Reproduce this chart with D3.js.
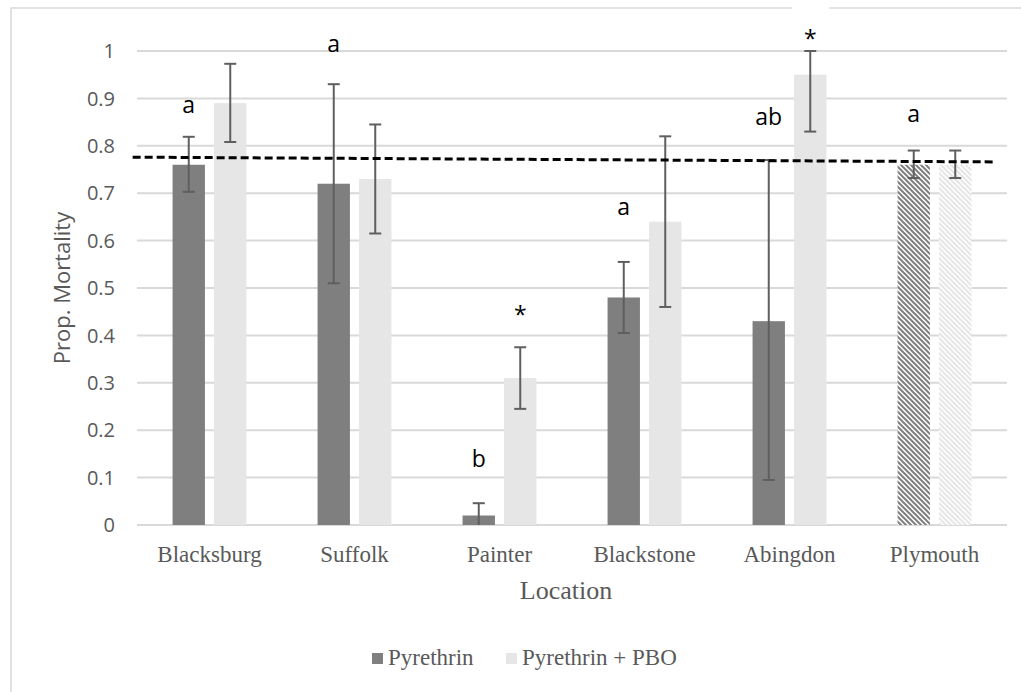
<!DOCTYPE html>
<html>
<head>
<meta charset="utf-8">
<script src="https://cdn.jsdelivr.net/npm/d3@7"></script>
<style>
  body { margin: 0; background: #fff; }
  svg { display: block; }
</style>
</head>
<body>
<svg id="chart" width="1021" height="692"></svg>
<script>
// locations on the x axis
const locations = ['Blacksburg', 'Suffolk', 'Painter', 'Blackstone', 'Abingdon', 'Plymouth'];
const seriesNames = ['Pyrethrin', 'Pyrethrin + PBO'];

// proportion mortality and error bar bounds
const pyrethrin = [0.76, 0.72, 0.02, 0.48, 0.43, 0.76];
const pyrethrinLow = [0.703, 0.51, 0.0, 0.405, 0.095, 0.732];
const pyrethrinHigh = [0.819, 0.93, 0.046, 0.555, 0.77, 0.79];

const pyrethrinPbo = [0.89, 0.73, 0.31, 0.64, 0.95, 0.76];
const pyrethrinPboLow = [0.808, 0.615, 0.245, 0.46, 0.83, 0.732];
const pyrethrinPboHigh = [0.973, 0.845, 0.375, 0.82, 1.0, 0.79];

const yTicks = [0, 0.1, 0.2, 0.3, 0.4, 0.5, 0.6, 0.7, 0.8, 0.9, 1];

// significance letters: location, series index, text, baseline value
const sigLabels = [
    ['Blacksburg', 0, 'a', 0.869],
    ['Suffolk', 0, 'a', 0.998],
    ['Painter', 0, 'b', 0.122],
    ['Painter', 1, '*', 0.426],
    ['Blackstone', 0, 'a', 0.654],
    ['Abingdon', 0, 'ab', 0.844],
    ['Abingdon', 1, '*', 1.008],
    ['Plymouth', 0, 'a', 0.85]
];

// dashed reference line, position in category units
const refLine = [[-0.03, 0.776], [5.92, 0.766]];

const margens = { left: 137, right: 14, top: 51, bottom: 167 };
const svg = d3.select('#chart');
const width = 1021 - margens.left - margens.right;
const height = 692 - margens.top - margens.bottom;

const colors = ['#7f7f7f', '#e7e6e6'];

// hatched fill for Plymouth
const defs = svg.append('defs');
colors.forEach((c, i) => {
    const p = defs.append('pattern')
        .attr('id', 'hatch' + i)
        .attr('patternUnits', 'userSpaceOnUse')
        .attr('width', 5).attr('height', 5);
    p.append('rect').attr('width', 5).attr('height', 5).attr('fill', '#fff');
    p.append('path')
        .attr('d', 'M0,0 L5,5 M-1,4 L1,6 M4,-1 L6,1')
        .attr('stroke', c).attr('stroke-width', 2);
});

// outer border
svg.append('rect')
    .attr('x', 11).attr('y', 8)
    .attr('width', 1040).attr('height', 720)
    .attr('fill', 'none').attr('stroke', '#d9d9d9').attr('stroke-width', 1.5);

const x = d3.scaleBand().domain(locations).range([0, width]).padding(0);
const x1 = d3.scaleBand().domain([0, 1]).range([0, x.bandwidth()])
    .paddingInner(0.22).paddingOuter(0.857);
const xPos = d3.scaleLinear().domain([0, locations.length]).range([0, width]);
const y = d3.scaleLinear().domain([0, 1]).range([height, 0]);

const group = svg.append('g')
    .attr('transform', `translate(${margens.left}, ${margens.top})`);

// gridlines
group.append('g').selectAll('line').data(yTicks).enter()
    .append('line')
    .attr('x1', 0).attr('x2', width)
    .attr('y1', d => y(d)).attr('y2', d => y(d))
    .attr('stroke', '#d9d9d9').attr('stroke-width', 2);

// y tick labels
group.append('g').selectAll('text').data(yTicks).enter()
    .append('text')
    .attr('x', -22).attr('y', d => y(d))
    .attr('dy', '0.36em')
    .attr('text-anchor', 'end')
    .attr('font-family', 'Open Sans, sans-serif')
    .attr('font-size', 20)
    .attr('fill', '#595959')
    .text(d => d);

const data = [];
locations.forEach((loc, i) => {
    data.push({ loc, s: 0, v: pyrethrin[i], lo: pyrethrinLow[i], hi: pyrethrinHigh[i] });
    data.push({ loc, s: 1, v: pyrethrinPbo[i], lo: pyrethrinPboLow[i], hi: pyrethrinPboHigh[i] });
});

const cx = d => x(d.loc) + x1(d.s) + x1.bandwidth() / 2;

// bars
group.append('g').selectAll('rect').data(data).enter()
    .append('rect')
    .attr('x', d => x(d.loc) + x1(d.s))
    .attr('y', d => y(d.v))
    .attr('width', x1.bandwidth())
    .attr('height', d => height - y(d.v))
    .attr('fill', d => d.loc === 'Plymouth' ? `url(#hatch${d.s})` : colors[d.s]);

// error bars
const err = group.append('g')
    .attr('stroke', '#5f5f5f').attr('stroke-width', 2);
err.selectAll('.stem').data(data).enter()
    .append('line')
    .attr('x1', cx).attr('x2', cx)
    .attr('y1', d => y(d.lo)).attr('y2', d => y(d.hi));
err.selectAll('.capHi').data(data).enter()
    .append('line')
    .attr('x1', d => cx(d) - 6).attr('x2', d => cx(d) + 6)
    .attr('y1', d => y(d.hi)).attr('y2', d => y(d.hi));
err.selectAll('.capLo').data(data.filter(d => d.lo > 0)).enter()
    .append('line')
    .attr('x1', d => cx(d) - 6).attr('x2', d => cx(d) + 6)
    .attr('y1', d => y(d.lo)).attr('y2', d => y(d.lo));

// dashed reference line
group.append('path')
    .datum(refLine)
    .attr('d', d3.line().x(d => xPos(d[0])).y(d => y(d[1])))
    .attr('fill', 'none')
    .attr('stroke', '#000')
    .attr('stroke-width', 3)
    .attr('stroke-dasharray', '8,4');

// significance labels
const lab = group.append('g').selectAll('g').data(sigLabels).enter().append('g');
lab.filter(d => d[2] === '*' && d[3] > 1)
    .append('rect')
    .attr('x', d => x(d[0]) + x1(d[1]) + x1.bandwidth() / 2 - 18)
    .attr('y', d => y(d[3]) - 46)
    .attr('width', 37).attr('height', 44)
    .attr('fill', '#fff');
lab.append('text')
    .attr('x', d => x(d[0]) + x1(d[1]) + x1.bandwidth() / 2)
    .attr('y', d => y(d[3]))
    .attr('text-anchor', 'middle')
    .attr('font-family', 'Open Sans, sans-serif')
    .attr('font-size', 23)
    .attr('fill', '#000')
    .text(d => d[2]);

// x category labels
group.append('g').selectAll('text').data(locations).enter()
    .append('text')
    .attr('x', d => x(d) + x.bandwidth() / 2)
    .attr('y', height + 37)
    .attr('text-anchor', 'middle')
    .attr('font-family', 'Liberation Serif, Times New Roman, serif')
    .attr('font-size', 23)
    .attr('fill', '#595959')
    .text(d => d);

// axis titles
group.append('text')
    .attr('x', width / 2 - 6).attr('y', height + 74)
    .attr('text-anchor', 'middle')
    .attr('font-family', 'Liberation Serif, Times New Roman, serif')
    .attr('font-size', 26)
    .attr('fill', '#595959')
    .text('Location');

svg.append('text')
    .attr('transform', `translate(70, ${margens.top + height / 2}) rotate(-90)`)
    .attr('text-anchor', 'middle')
    .attr('font-family', 'Open Sans, sans-serif')
    .attr('font-size', 22)
    .attr('fill', '#595959')
    .text('Prop. Mortality');

// legend
const legend = svg.append('g').attr('transform', 'translate(372, 665)');
const legX = [0, 134];
seriesNames.forEach((name, i) => {
    legend.append('rect')
        .attr('x', legX[i]).attr('y', -12)
        .attr('width', 11).attr('height', 11)
        .attr('fill', colors[i]);
    legend.append('text')
        .attr('x', legX[i] + 16).attr('y', 0)
        .attr('font-family', 'Liberation Serif, Times New Roman, serif')
        .attr('font-size', 23)
        .attr('fill', '#595959')
        .text(name);
});
</script>
</body>
</html>
